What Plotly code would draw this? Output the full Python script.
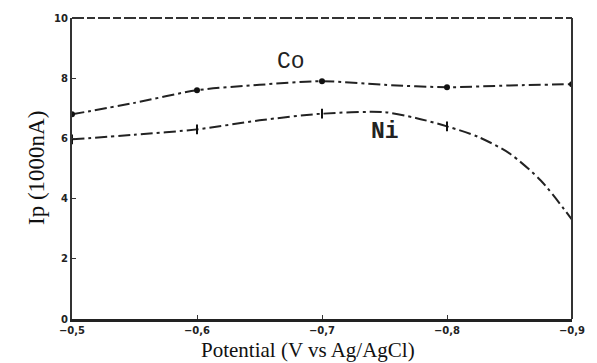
import plotly.graph_objects as go

# Data
co_x = [-0.5, -0.55, -0.6, -0.65, -0.7, -0.75, -0.8, -0.85, -0.9]
co_y = [6.8, 7.18, 7.6, 7.78, 7.9, 7.78, 7.7, 7.76, 7.8]
co_mark_x = [-0.5, -0.6, -0.7, -0.8, -0.9]
co_mark_y = [6.8, 7.6, 7.9, 7.7, 7.8]

ni_x = [-0.5, -0.55, -0.6, -0.65, -0.7, -0.75, -0.775, -0.8, -0.825, -0.85, -0.875, -0.9]
ni_y = [5.97, 6.12, 6.3, 6.6, 6.82, 6.87, 6.68, 6.4, 6.05, 5.5, 4.6, 3.3]
ni_mark_x = [-0.5, -0.6, -0.7, -0.8, -0.9]
ni_mark_y = [5.97, 6.3, 6.82, 6.4, 3.3]

x_tickvals = [-0.5, -0.6, -0.7, -0.8, -0.9]
x_ticktext = ["\u22120,5", "\u22120,6", "\u22120,7", "\u22120,8", "\u22120,9"]
y_tickvals = [0, 2, 4, 6, 8, 10]
y_ticktext = ["0", "2", "4", "6", "8", "10"]

fig = go.Figure()
fig.add_trace(go.Scatter(x=co_x, y=co_y, mode="lines", line=dict(color="#222", width=2, dash="12px,4px,3px,4px", shape="spline", smoothing=0.8), showlegend=False))
fig.add_trace(go.Scatter(x=co_mark_x, y=co_mark_y, mode="markers", marker=dict(color="#111", size=6, symbol="circle"), showlegend=False))
fig.add_trace(go.Scatter(x=ni_x, y=ni_y, mode="lines", line=dict(color="#222", width=2, dash="12px,4px,3px,4px", shape="spline", smoothing=0.8), showlegend=False))
fig.add_trace(go.Scatter(x=ni_mark_x, y=ni_mark_y, mode="markers", marker=dict(color="#111", size=7, symbol="line-ns", line=dict(width=2, color="#111")), showlegend=False))

fig.update_layout(
    width=597, height=363,
    margin=dict(l=72, r=18, t=14, b=44),
    paper_bgcolor="white", plot_bgcolor="white",
    xaxis=dict(range=[-0.5, -0.9], tickvals=x_tickvals, ticktext=x_ticktext,
               showgrid=False, zeroline=False, showline=True, linecolor="#222", linewidth=2.5,
               ticks="inside", ticklen=4, tickcolor="#333", ticklabelstandoff=0,
               tickfont=dict(family="DejaVu Sans", size=10, color="#222", weight="bold")),
    yaxis=dict(range=[0, 10], tickvals=y_tickvals, ticktext=y_ticktext,
               showgrid=False, zeroline=False, showline=True, linecolor="#333", linewidth=2,
               ticks="inside", ticklen=4, tickcolor="#333",
               tickfont=dict(family="DejaVu Sans", size=10, color="#222", weight="bold")),
    shapes=[
        dict(type="line", xref="paper", yref="paper", x0=0, x1=1, y0=1, y1=1,
             line=dict(color="#333", width=2, dash="12px,3px,8px,3px")),
        dict(type="line", xref="paper", yref="paper", x0=1, x1=1, y0=0, y1=1,
             line=dict(color="#333", width=2)),
    ],
    annotations=[
        dict(text="Co", x=-0.675, y=8.55, xref="x", yref="y", showarrow=False,
             font=dict(family="Liberation Mono", size=23, color="#222")),
        dict(text="Ni", x=-0.75, y=6.2, xref="x", yref="y", showarrow=False,
             font=dict(family="Liberation Mono", size=23, color="#222", weight="bold")),
        dict(text="Potential (V vs Ag/AgCl)", x=0.5, y=0, xref="paper", yref="paper",
             xshift=-14, yshift=-44, yanchor="bottom", showarrow=False, borderpad=0,
             font=dict(family="Liberation Serif", size=21, color="#111")),
        dict(text="Ip (1000nA)", x=0, y=0.5, xref="paper", yref="paper", xshift=-50,
             textangle=-90, showarrow=False,
             font=dict(family="Liberation Serif", size=23, color="#111")),
    ],
)
fig.write_html("out.html")
